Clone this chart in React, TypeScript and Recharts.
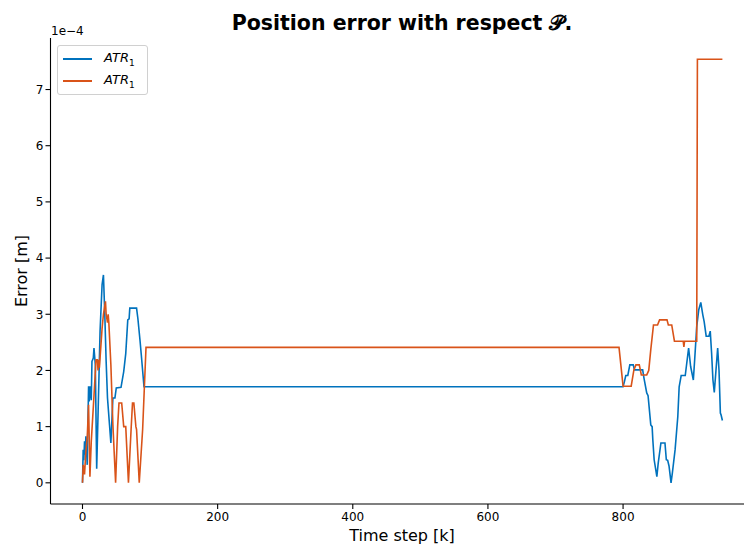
import React from 'react';
import { LineChart, Line, XAxis, YAxis } from 'recharts';

// error values are in units of 1e-4 m (the axis carries the 1e−4 offset label)
const blueSteps = [
  0, 1, 2, 3, 4, 5, 7, 9, 10, 11, 13, 14, 16, 17, 19, 21, 23, 26, 29, 31, 33, 35, 37, 40, 42, 45, 48,
  50, 57, 61, 64, 67, 69, 70, 80, 82, 85, 87, 91, 800, 802, 804, 807, 810, 815, 817, 829, 831, 835,
  837, 841, 843, 844, 846, 850, 852, 856, 862, 864, 866, 868, 871, 873, 877, 881, 883, 886, 892, 897,
  900, 904, 906, 909, 912, 915, 918, 920, 923, 927, 929, 931, 933, 935, 940, 942, 944, 945, 947,
];
const blueErr = [
  0, 0.59, 0.4, 0.74, 0.5, 0.83, 0.32, 1.72, 1.45, 1.72, 1.47, 2.16, 2.22, 2.4, 2.1, 0.25, 1.21, 2.7,
  3.53, 3.7, 3.0, 2.16, 1.51, 1.03, 0.71, 1.51, 1.51, 1.69, 1.7, 1.98, 2.3, 2.9, 2.92, 3.11, 3.11,
  2.92, 2.55, 2.28, 1.71, 1.71, 1.8, 1.91, 1.91, 2.1, 2.1, 2.01, 2.01, 1.86, 1.6, 1.55, 1.03, 1.0,
  0.77, 0.41, 0.11, 0.35, 0.71, 0.71, 0.41, 0.4, 0.3, 0.0, 0.18, 0.59, 1.18, 1.71, 1.91, 1.91, 2.4,
  2.07, 1.83, 2.2, 2.78, 3.08, 3.21, 2.99, 2.87, 2.61, 2.61, 2.7, 2.31, 1.83, 1.61, 2.4, 2.0, 1.24,
  1.21, 1.11,
];

const orangeSteps = [
  0, 1, 3, 5, 7, 9, 11, 13, 17, 20, 22, 23, 24, 25, 29, 31, 34, 35, 37, 38, 39, 42, 45, 49, 52, 54,
  58, 61, 64, 68, 72, 74, 76, 79, 80, 84, 89, 94, 794, 800, 812, 816, 819, 824, 827, 835, 838, 841,
  845, 851, 854, 865, 867, 872, 876, 889, 890, 891, 909, 910, 947,
];
const orangeErr = [
  0, 0.32, 0.15, 0.56, 0.8, 1.39, 0.11, 0.74, 1.55, 2.19, 2.19, 2.0, 2.19, 2.05, 2.75, 3.0, 3.23, 3.0,
  2.85, 3.0, 2.85, 2.1, 1.03, 0, 1.0, 1.42, 1.42, 1.0, 1.0, 0, 0.97, 1.42, 1.42, 1.0, 0.95, 0, 0.95,
  2.41, 2.41, 1.72, 1.72, 2.01, 2.1, 2.1, 1.92, 1.92, 2.0, 2.37, 2.81, 2.81, 2.9, 2.9, 2.81, 2.81,
  2.52, 2.52, 2.42, 2.52, 2.52, 7.54, 7.54,
];

const xTicks = [0, 200, 400, 600, 800];
const yTicks = [0, 1, 2, 3, 4, 5, 6, 7];

const BLUE = '#0072BD';
const ORANGE = '#D95319';
const FONT = '"DejaVu Sans", sans-serif';

const blueData = blueSteps.map((k, i) => ({ k, err: blueErr[i] }));
const orangeData = orangeSteps.map((k, i) => ({ k, err: orangeErr[i] }));

// matplotlib-style 5% padding around the data
const xMax = 947;
const yMax = 7.54;
const xDomain = [-0.05 * xMax, xMax * 1.05];
const yDomain = [-0.05 * yMax, yMax * 1.05];

const legendItems = [
  { color: BLUE, label: 'ATR' },
  { color: ORANGE, label: 'ATR' },
];

// legend drawn as an overlay so it doesn't eat into the plot area
function LegendBox() {
  return (
    <div
      style={{
        position: 'absolute',
        left: 57,
        top: 45,
        border: '1px solid #d0d0d0',
        borderRadius: 3,
        background: 'rgba(255,255,255,0.85)',
        padding: '2px 8px 2px 5px',
        fontFamily: FONT,
        fontSize: 13,
        width: 76,
      }}
    >
      {legendItems.map((it, i) => (
        <div key={i} style={{ display: 'flex', alignItems: 'center', height: 22 }}>
          <span style={{ display: 'inline-block', width: 29, height: 0, borderTop: `2px solid ${it.color}`, marginRight: 12 }} />
          <span style={{ fontStyle: 'italic' }}>
            {it.label}
            <sub style={{ fontSize: 9, fontStyle: 'normal' }}>1</sub>
          </span>
        </div>
      ))}
    </div>
  );
}

export default function App() {
  const axisStroke = { stroke: '#000', strokeWidth: 1.1 };
  const tickStyle = { fill: '#000', fontSize: 12, fontFamily: FONT };
  return (
    <div style={{ position: 'absolute', left: 0, top: 0, width: 744, height: 547, overflow: 'hidden', background: '#fff' }}>
      <LineChart width={770} height={547} margin={{ top: 38, right: 15.6, bottom: 0, left: 0 }}>
        <XAxis
          dataKey="k"
          type="number"
          domain={xDomain}
          ticks={xTicks}
          allowDataOverflow
          height={43}
          axisLine={axisStroke}
          tickLine={axisStroke}
          tickSize={5}
          tickMargin={3}
          tick={tickStyle}
        />
        <XAxis xAxisId="top" orientation="top" type="number" domain={xDomain} height={0} axisLine={axisStroke} tick={false} tickLine={false} />
        <YAxis
          type="number"
          domain={yDomain}
          ticks={yTicks}
          allowDataOverflow
          width={50.5}
          axisLine={axisStroke}
          tickLine={axisStroke}
          tickSize={5}
          tickMargin={2}
          tick={tickStyle}
        />
        <YAxis yAxisId="right" orientation="right" type="number" domain={yDomain} width={0} axisLine={axisStroke} tick={false} tickLine={false} />
        <Line data={blueData} dataKey="err" stroke={BLUE} strokeWidth={1.6} dot={false} type="linear" isAnimationActive={false} />
        <Line data={orangeData} dataKey="err" stroke={ORANGE} strokeWidth={1.6} dot={false} type="linear" isAnimationActive={false} />
        <text x={402} y={30} textAnchor="middle" fontFamily={FONT} fontSize={20.5} fontWeight="bold" fill="#000">
          Position error with respect 𝒫.
        </text>
        <text x={51} y={35} fontFamily={FONT} fontSize={12} fill="#000">
          1e−4
        </text>
        <text x={402} y={541} textAnchor="middle" fontFamily={FONT} fontSize={16} fill="#000">
          Time step [k]
        </text>
        <text x={27} y={271} textAnchor="middle" fontFamily={FONT} fontSize={16} fill="#000" transform="rotate(-90, 27, 271)">
          Error [m]
        </text>
      </LineChart>
      <LegendBox />
    </div>
  );
}
